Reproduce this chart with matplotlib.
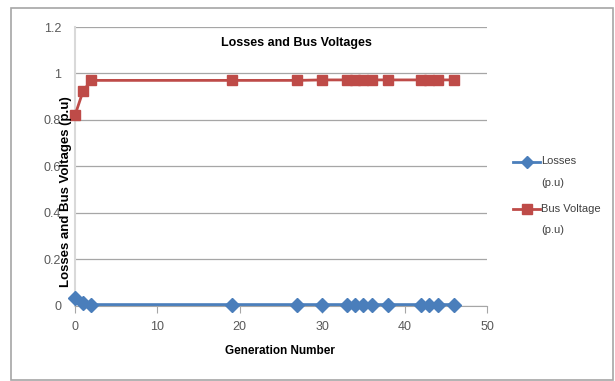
import matplotlib.pyplot as plt
from matplotlib.lines import Line2D
from matplotlib.patches import Rectangle

plt.rcParams['font.family'] = ['Liberation Sans Narrow', 'Liberation Sans', 'DejaVu Sans']

# generation numbers at which results were recorded
generation = [0, 1, 2, 19, 27, 30, 33, 34, 35, 36, 38, 42, 43, 44, 46]
losses = [0.034, 0.012, 0.004, 0.004, 0.004, 0.004, 0.004, 0.004,
          0.004, 0.004, 0.004, 0.004, 0.004, 0.004, 0.004]
bus_voltage = [0.82, 0.926, 0.97, 0.97, 0.97, 0.972, 0.972, 0.972,
               0.972, 0.972, 0.972, 0.972, 0.972, 0.972, 0.972]

y_ticks = [0, 0.2, 0.4, 0.6, 0.8, 1, 1.2]
y_tick_labels = ['0', '0.2', '0.4', '0.6', '0.8', '1', '1.2']
x_ticks = [0, 10, 20, 30, 40, 50]
series_names = ['Losses', 'Bus Voltage']

W, H = 615, 381
fig = plt.figure(figsize=(W / 100, H / 100), dpi=100)
ax = fig.add_axes([75 / W, 1 - 305.5 / H, (487 - 75) / W, (305.5 - 27) / H])

blue = '#4A7EBB'
red = '#BE4B48'
styles = [dict(color=blue, marker='D', ms=7), dict(color=red, marker='s', ms=7.5)]
ax.plot(generation, losses, lw=2, clip_on=False, zorder=3, **styles[0])
ax.plot(generation, bus_voltage, lw=2, clip_on=False, zorder=3, **styles[1])

ax.set_xlim(0, 50)
ax.set_ylim(0, 1.2)
ax.set_yticks(y_ticks)
ax.set_yticklabels(y_tick_labels)
ax.set_xticks(x_ticks)
ax.yaxis.grid(True, color='#A6A6A6', lw=0.9)
ax.set_axisbelow(True)

for side in ['top', 'right']:
    ax.spines[side].set_visible(False)
ax.spines['left'].set_color('#D9D9D9')
ax.spines['left'].set_linewidth(1.5)
ax.spines['bottom'].set_color('#A6A6A6')
ax.tick_params(axis='y', length=0, pad=10, labelsize=9, labelcolor='#595959')
ax.tick_params(axis='x', length=5, color='#A6A6A6', direction='out',
               pad=6, labelsize=9, labelcolor='#595959')

fig.text(296 / W, 1 - 43 / H, 'Losses and Bus Voltages', ha='center',
         va='center', fontsize=9, fontweight='bold')
fig.text(280 / W, 1 - 351 / H, 'Generation Number', ha='center', va='center',
         fontsize=8.5, fontweight='bold')
fig.text(66 / W, 1 - 192 / H, 'Losses and Bus Voltages (p.u)', ha='center',
         va='center', rotation=90, fontsize=9.5, fontweight='bold')

# legend: handle sits beside the first line of each two-line label
for name, style, y in zip(series_names, styles, [161.5, 209]):
    fig.add_artist(Line2D([513 / W, 540 / W], [1 - y / H] * 2, lw=2,
                          transform=fig.transFigure, color=style['color']))
    fig.add_artist(Line2D([526.5 / W], [1 - y / H], lw=0,
                          transform=fig.transFigure,
                          color=style['color'], marker=style['marker'],
                          ms=style['ms'] - 1))
    fig.text(541 / W, 1 - y / H, name, ha='left', va='center',
             fontsize=8, color='#404040')
    fig.text(541 / W, 1 - (y + 21) / H, '(p.u)', ha='left', va='center',
             fontsize=8, color='#404040')

fig.add_artist(Rectangle((11 / W, 1 / H), (613 - 11) / W, (H - 9) / H,
                         transform=fig.transFigure, fill=False,
                         edgecolor='#A6A6A6', lw=1.2))

fig.savefig('out.png', dpi=100)
